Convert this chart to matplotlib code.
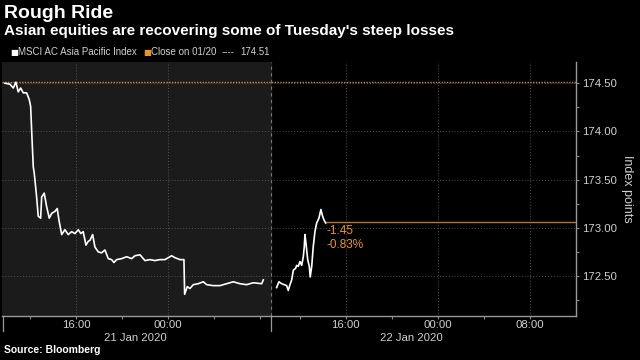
import matplotlib
matplotlib.use("Agg")
import matplotlib.pyplot as plt
import matplotlib.transforms as mtransforms

plt.rcParams['font.family'] = ['DejaVu Sans Condensed', 'Liberation Sans', 'DejaVu Sans']

# MSCI AC Asia Pacific Index, session of 21 Jan (hours since 21 Jan 00:00)
s1_hours = [9.83, 10.26, 10.55, 10.78, 10.98, 11.19, 11.42, 11.71, 11.94, 12.06,
            12.17, 12.29, 12.37, 12.43, 12.58, 12.72, 12.93, 13.02, 13.24, 13.45,
            13.68, 13.89, 14.17, 14.37, 14.55, 14.76, 15.04, 15.33, 15.63, 15.91,
            16.20, 16.43, 16.63, 16.87, 17.07, 17.22, 17.45, 17.65, 17.94, 18.23,
            18.52, 18.81, 19.10, 19.30, 19.54, 19.97, 20.41, 20.84, 21.13, 21.57,
            22.00, 22.43, 22.87, 23.30, 23.74, 24.03, 24.32, 24.61, 25.04, 25.39,
            25.45, 25.68, 25.91, 26.20, 26.63, 27.07, 27.37, 27.94, 28.52, 29.10,
            29.68, 30.26, 30.84, 31.42, 32.15, 32.29]
s1_values = [174.50, 174.49, 174.45, 174.51, 174.41, 174.45, 174.40, 174.40, 174.33, 174.26,
             173.95, 173.63, 173.57, 173.50, 173.32, 173.12, 173.10, 173.32, 173.36, 173.22,
             173.10, 173.15, 173.17, 173.20, 173.06, 172.93, 172.98, 172.93, 172.96, 172.94,
             172.98, 172.94, 172.96, 172.82, 172.86, 172.87, 172.93, 172.80, 172.75, 172.74,
             172.77, 172.68, 172.67, 172.64, 172.67, 172.68, 172.70, 172.68, 172.71, 172.72,
             172.66, 172.67, 172.66, 172.67, 172.67, 172.69, 172.71, 172.69, 172.67, 172.67,
             172.31, 172.39, 172.37, 172.41, 172.42, 172.44, 172.41, 172.40, 172.40, 172.42,
             172.44, 172.42, 172.41, 172.43, 172.42, 172.46]

# session of 22 Jan (hours since 22 Jan 00:00)
s2_hours = [10.00, 10.20, 10.44, 10.66, 10.87, 11.01, 11.16, 11.31, 11.45, 11.65,
            11.74, 11.88, 12.03, 12.18, 12.32, 12.40, 12.46, 12.55, 12.70, 12.84,
            12.92, 13.05, 13.18, 13.33, 13.48, 13.68, 13.85, 13.97, 14.12, 14.26]
s2_values = [172.38, 172.44, 172.42, 172.41, 172.40, 172.35, 172.41, 172.46, 172.56, 172.58,
             172.61, 172.60, 172.65, 172.61, 172.70, 172.80, 172.93, 172.84, 172.67, 172.60,
             172.49, 172.60, 172.80, 172.96, 173.05, 173.10, 173.19, 173.13, 173.08, 173.05]

prev_close = 174.51
last_price = 173.06
change = "-1.45"
change_pct = "-0.83%"

y_ticks = [172.5, 173.0, 173.5, 174.0, 174.5]
y_minor = [172.25, 172.75, 173.25, 173.75, 174.25]
x_major = [16, 24, 40, 48, 56]
x_major_labels = ["16:00", "00:00", "16:00", "00:00", "08:00"]
x_minor = [12, 20, 28, 32, 36, 44, 52]
day_labels = ["21 Jan 2020", "22 Jan 2020"]
day_label_pos = [21.2, 45.2]

# the chart squeezes out the short overnight pause between sessions
BREAK = 33.0
GAP = 0.55


def to_axis(h):
    return [t if t <= BREAK else t - GAP for t in h]


orange = '#e8952f'
bg = 'black'
txt = '#d0d0d0'

fig = plt.figure(figsize=(6.4, 3.6), dpi=100, facecolor=bg)
ax = fig.add_axes([2 / 640, 44 / 360, 574 / 640, 254 / 360], facecolor=bg)

x1 = to_axis(s1_hours)
x2 = to_axis([h + 24 for h in s2_hours])

xmin, xmax = 9.57, 59.48
ax.set_xlim(xmin, xmax)
ax.set_ylim(172.085, 174.72)

# shaded previous session
ax.axvspan(xmin, BREAK, color='#1b1b1b', zorder=0)
ax.axvline(BREAK, color='#777777', lw=0.8, ls=(0, (3, 3)), zorder=1)

ax.plot(x1, s1_values, color='white', lw=1.2, zorder=4)
ax.plot(x2, s2_values, color='white', lw=1.2, zorder=4)

ax.axhline(prev_close, color='#c98a35', lw=1.0, ls=(0, (1, 1)), zorder=3)
ax.plot([x2[-1], xmax], [last_price, last_price], color='#b9743a', lw=1.0, zorder=3)
ax.text(x2[-1] + 0.1, last_price - 0.03, change + "\n" + change_pct, color=orange,
        fontsize=8.5, va='top', ha='left', linespacing=1.2)

# axes styling
ax.yaxis.tick_right()
ax.yaxis.set_label_position('right')
ax.set_yticks(y_ticks, [f"{v:.2f}" for v in y_ticks])
ax.set_yticks(y_minor, minor=True)
ax.set_xticks(to_axis(x_major), x_major_labels)
ax.set_xticks(to_axis(x_minor), minor=True)
ax.tick_params(colors='#888888', labelcolor=txt, labelsize=8.2, length=2.5, width=0.8)
ax.tick_params(which='minor', colors='#888888', length=2.5, width=0.8)
ax.tick_params(axis='x', pad=0.5)
ax.tick_params(axis='y', pad=2)
ax.grid(which='major', color='#555555', lw=0.7, ls=(0, (1, 2)))
for side in ['top', 'left']:
    ax.spines[side].set_visible(False)
for side in ['bottom', 'right']:
    ax.spines[side].set_color('#999999')
    ax.spines[side].set_linewidth(1.0)
ax.set_ylabel("Index points", color=txt, fontsize=9, rotation=270, labelpad=11)

# day labels and separators under the axis
trans = mtransforms.blended_transform_factory(ax.transData, ax.transAxes)
for pos, lab in zip(day_label_pos, day_labels):
    ax.text(pos, -0.087, lab, transform=trans, color=txt, fontsize=8.2,
            ha='center', va='center')
for sep in [xmin + 0.05, BREAK]:
    ax.plot([sep, sep], [0, -0.06], transform=trans, color='#999999', lw=0.9, clip_on=False)

# titles
fig.text(4 / 640, 1 - 13 / 360, "Rough Ride", color='white', fontsize=14,
         fontweight='bold', va='center', ha='left')
fig.text(4 / 640, 1 - 31 / 360, "Asian equities are recovering some of Tuesday's steep losses",
         color='white', fontsize=11, fontweight='bold', va='center', ha='left')

# legend row
ly = 1 - 52 / 360
fig.text(10 / 640, ly, "■", color='white', fontsize=6, va='center', ha='left',
         family='DejaVu Sans')
fig.text(18 / 640, ly, "MSCI AC Asia Pacific Index", color=txt, fontsize=7,
         va='center', ha='left')
fig.text(143 / 640, ly, "■", color=orange, fontsize=6, va='center', ha='left',
         family='DejaVu Sans')
fig.text(151 / 640, ly, "Close on 01/20", color=txt, fontsize=7,
         va='center', ha='left')
fig.text(222 / 640, ly, "----", color=txt, fontsize=7, va='center', ha='left')
fig.text(240 / 640, ly, f"{prev_close:.2f}", color=txt, fontsize=7,
         va='center', ha='left')

fig.text(4 / 640, 1 - 350 / 360, "Source: Bloomberg", color='white', fontsize=7.5,
         fontweight='bold', va='center', ha='left')

fig.savefig("out.png", dpi=100, facecolor=bg)
